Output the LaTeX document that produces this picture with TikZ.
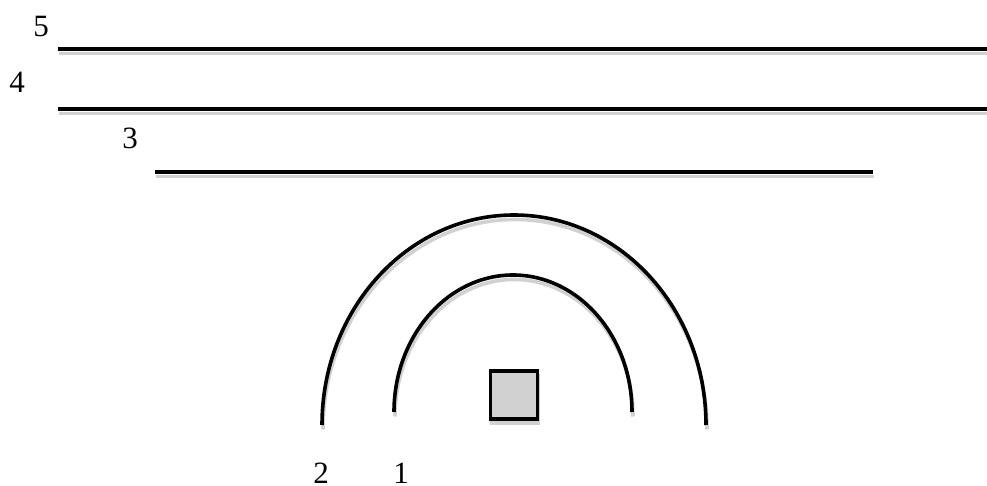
\documentclass[tikz,border=0pt]{standalone}
\usepackage{fontspec}
\setmainfont{Liberation Serif}
\tikzset{
  shade line/.style={draw=black!18, line width=3.6pt},
  main line/.style={draw=black, line width=3.6pt},
  lbl/.style={inner sep=0pt, font=\fontsize{31}{31}\selectfont},
}
\begin{document}
\begin{tikzpicture}[x=1pt,y=1pt]
\useasboundingbox (0,0) rectangle (987,485);
% shadows
\begin{scope}[shift={(1,-4.5)}]
  \draw[shade line] (58,436) -- (987,436);
  \draw[shade line] (58,376) -- (987,376);
  \draw[shade line] (155,313) -- (873,313);
  \draw[shade line] (322,60) arc[start angle=180,end angle=0,x radius=192,y radius=210];
  \draw[shade line] (394,73) arc[start angle=180,end angle=0,x radius=119,y radius=137];
  \draw[shade line, fill=black!18] (490.3,66) rectangle (537.5,114);
\end{scope}
% main
\draw[main line] (58,436) -- (987,436);
\draw[main line] (58,376) -- (987,376);
\draw[main line] (155,313) -- (873,313);
\draw[main line] (322,60) arc[start angle=180,end angle=0,x radius=192,y radius=210];
\draw[main line] (394,73) arc[start angle=180,end angle=0,x radius=119,y radius=137];
\draw[main line, fill=black!18] (490.3,66) rectangle (537.5,114);
% labels
\node[lbl] (l5) at (41,458) {5};
\node[lbl] (l4) at (17,403) {4};
\node[lbl] (l3) at (130,347) {3};
\node[lbl] (l2) at (321,12) {2};
\node[lbl] (l1) at (401,12) {1};
\end{tikzpicture}
\end{document}
